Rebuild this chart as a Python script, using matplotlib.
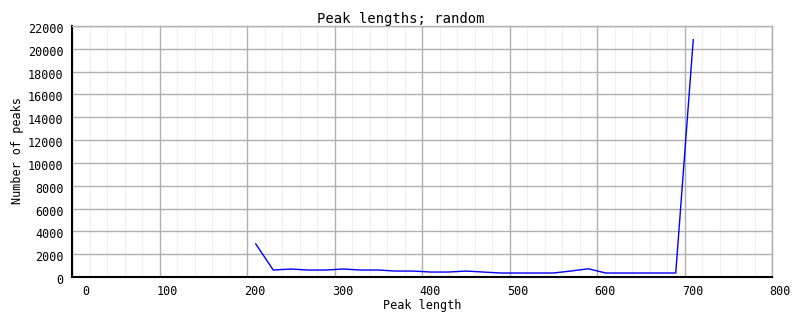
import numpy as np
import matplotlib
matplotlib.use("Agg")
from matplotlib import pyplot as plt
from matplotlib.transforms import ScaledTranslation

# peak length bins and counts
peak_len = [210, 230, 250, 270, 290, 310, 330, 350, 370, 390, 410, 430, 450,
            470, 490, 510, 530, 550, 570, 590, 610, 630, 650, 670, 690, 710]
n_peaks = [2900, 610, 700, 610, 610, 700, 610, 610, 520, 520, 435, 435, 520,
           435, 350, 350, 350, 350, 520, 720, 350, 350, 350, 350, 350, 20800]

x_ticks = list(range(0, 801, 100))
y_ticks = list(range(0, 22001, 2000))

mono = "DejaVu Sans Mono"

fig = plt.figure(figsize=(8.02, 3.28), dpi=100)
ax = fig.add_axes([72 / 802, 51 / 328, 700 / 802, 251 / 328])

ax.plot(peak_len, n_peaks, color="#0000ff", linewidth=1.0, zorder=3)

ax.set_xlim(0, 800)
ax.set_ylim(0, 22000)
ax.set_xticks(x_ticks)
ax.set_xticks(list(range(0, 801, 20)), minor=True)
ax.set_yticks(y_ticks)

ax.grid(which="major", color="#b0b0b0", linewidth=1.0, zorder=0)
ax.grid(which="minor", axis="x", color="#f0f0f0", linewidth=0.8, zorder=0)
ax.set_axisbelow(True)

ax.tick_params(which="both", length=0, labelsize=8.5, pad=6)
for lab in ax.get_xticklabels() + ax.get_yticklabels():
    lab.set_family(mono)

# x labels sit a bit right of their gridlines in the original
for lab in ax.get_xticklabels():
    dx = 14 if lab.get_text() == "0" else 8
    lab.set_transform(lab.get_transform() + ScaledTranslation(dx / 100, 0, fig.dpi_scale_trans))
for lab in ax.get_yticklabels():
    lab.set_transform(lab.get_transform() + ScaledTranslation(0, -2 / 100, fig.dpi_scale_trans))

for side in ["left", "bottom"]:
    ax.spines[side].set_color("black")
    ax.spines[side].set_linewidth(1.5)
for side in ["top", "right"]:
    ax.spines[side].set_color("#b0b0b0")
    ax.spines[side].set_linewidth(1.0)

fig.text(0.5, 1 - 19 / 328, "Peak lengths; random", ha="center", va="center",
         family=mono, fontsize=10)
fig.text(422 / 802, 1 - 305 / 328, "Peak length", ha="center", va="center",
         family=mono, fontsize=8.5)
fig.text(18 / 802, 1 - 151 / 328, "Number of peaks", ha="center", va="center",
         rotation=90, family=mono, fontsize=8.5)

fig.savefig("out.png", dpi=100)
